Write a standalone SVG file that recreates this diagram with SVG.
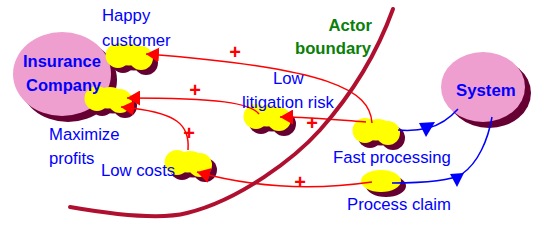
<svg xmlns="http://www.w3.org/2000/svg" xmlns:xlink="http://www.w3.org/1999/xlink" width="537" height="227" viewBox="0 0 537 227">
<style>
.lbl{font-family:"Liberation Sans",Arial,sans-serif;font-size:16.7px;fill:#0000ff}
.bold{font-family:"Liberation Sans",Arial,sans-serif;font-size:16.5px;font-weight:bold;fill:#0000ff}
.green{font-family:"Liberation Sans",Arial,sans-serif;font-size:16.7px;font-weight:bold;fill:#0a800a}
.plus{font-family:"Liberation Sans",Arial,sans-serif;font-size:20px;font-weight:bold;fill:#ff0000;text-anchor:middle}
.shadow{fill:#660033}
.yellow{fill:#ffff00}
.pink{fill:#ef9fcf}
.red{fill:none;stroke:#ff0000;stroke-width:1.5;marker-end:url(#redArrow)}
.blue{fill:none;stroke:#0000ff;stroke-width:1.5}
.bhead{fill:#0000ff}
</style>
<defs>
<g id="cloud">
<circle cx="-11" cy="-1.5" r="12.5"/>
<circle cx="12" cy="1" r="12"/>
<ellipse cx="0" cy="-1" rx="21" ry="9.5"/>
<ellipse cx="2" cy="-3" rx="14" ry="10"/>
</g>
<marker id="redArrow" viewBox="0 0 13 15" refX="13" refY="7.5" markerWidth="13" markerHeight="15" markerUnits="userSpaceOnUse" orient="auto">
<path d="M0,0 L13,7.5 L0,15 z" fill="#ff0000"/>
</marker>
</defs>
<rect width="537" height="227" fill="#ffffff"/>

<g id="insurance-company">
<ellipse class="shadow" cx="68" cy="80" rx="49" ry="42"/>
<ellipse class="pink" cx="62" cy="74" rx="49" ry="42"/>
</g>
<g id="system">
<ellipse class="shadow" cx="489" cy="93" rx="42" ry="35"/>
<ellipse class="pink" cx="483" cy="87" rx="42" ry="35"/>
<text class="bold" x="456" y="96" style="font-size:16.8px">System</text>
</g>

<g id="happy-customer">
<use xlink:href="#cloud" href="#cloud" class="shadow" x="134" y="62"/>
<use xlink:href="#cloud" href="#cloud" class="yellow" x="129" y="57"/>
</g>
<g id="maximize-profits">
<use xlink:href="#cloud" href="#cloud" class="shadow" x="113" y="105"/>
<use xlink:href="#cloud" href="#cloud" class="yellow" x="108" y="100"/>
</g>
<g id="low-litigation-risk">
<use xlink:href="#cloud" href="#cloud" class="shadow" x="272" y="123"/>
<use xlink:href="#cloud" href="#cloud" class="yellow" x="267" y="118"/>
</g>
<g id="fast-processing">
<use xlink:href="#cloud" href="#cloud" class="shadow" x="381" y="137"/>
<use xlink:href="#cloud" href="#cloud" class="yellow" x="376" y="132"/>
</g>
<g id="low-costs">
<use xlink:href="#cloud" href="#cloud" class="shadow" x="193" y="169"/>
<use xlink:href="#cloud" href="#cloud" class="yellow" x="188" y="164"/>
</g>
<g id="process-claim">
<ellipse class="shadow" cx="386" cy="186" rx="20" ry="11"/>
<ellipse class="yellow" cx="381" cy="181" rx="20" ry="11"/>
</g>

<g id="connectors">
<path class="red" d="M372,123 C370,90 330,68 146,54"/>
<path class="red" d="M259,114 C250,103 220,98 127,98"/>
<path class="red" d="M188,150 C190,125 178,112 121,107"/>
<path class="red" d="M366,122 C340,120 310,117 280,117"/>
<path class="red" d="M372,182 C330,188 270,192 197,172"/>
<path class="blue" d="M398,130 C410,131 420,130 428,128 C440,125 450,118 458,109"/>
<polygon class="bhead" points="419,123 435,122 426,137"/>
<path class="blue" d="M392,183 C430,183 452,180 462,174 C478,163 488,140 492,117"/>
<polygon class="bhead" points="450,174 464,173 457,187"/>
<text class="plus" x="235" y="59">+</text>
<text class="plus" x="195" y="97">+</text>
<text class="plus" x="189" y="140">+</text>
<text class="plus" x="312" y="130">+</text>
<text class="plus" x="300" y="189">+</text>
</g>

<g id="labels">
<text class="bold" x="23" y="67">Insurance</text>
<text class="bold" x="26" y="91">Company</text>
<text class="lbl" x="102" y="21">Happy</text>
<text class="lbl" x="102" y="46">customer</text>
<text class="lbl" x="273" y="84">Low</text>
<text class="lbl" x="242" y="108">litigation risk</text>
<text class="lbl" x="49" y="140">Maximize</text>
<text class="lbl" x="49" y="164">profits</text>
<text class="lbl" x="101" y="176">Low costs</text>
<text class="lbl" x="333" y="163">Fast processing</text>
<text class="lbl" x="347" y="210">Process claim</text>
</g>

<g id="actor-boundary">
<path d="M393,9 C380,45 360,85 320,130 C295,158 240,200 187,213 C160,220 110,214 70,207" fill="none" stroke="#b01030" stroke-width="4" stroke-linecap="round"/>
<text class="green" x="372" y="31" text-anchor="end">Actor</text>
<text class="green" x="371" y="54" text-anchor="end">boundary</text>
</g>
</svg>
